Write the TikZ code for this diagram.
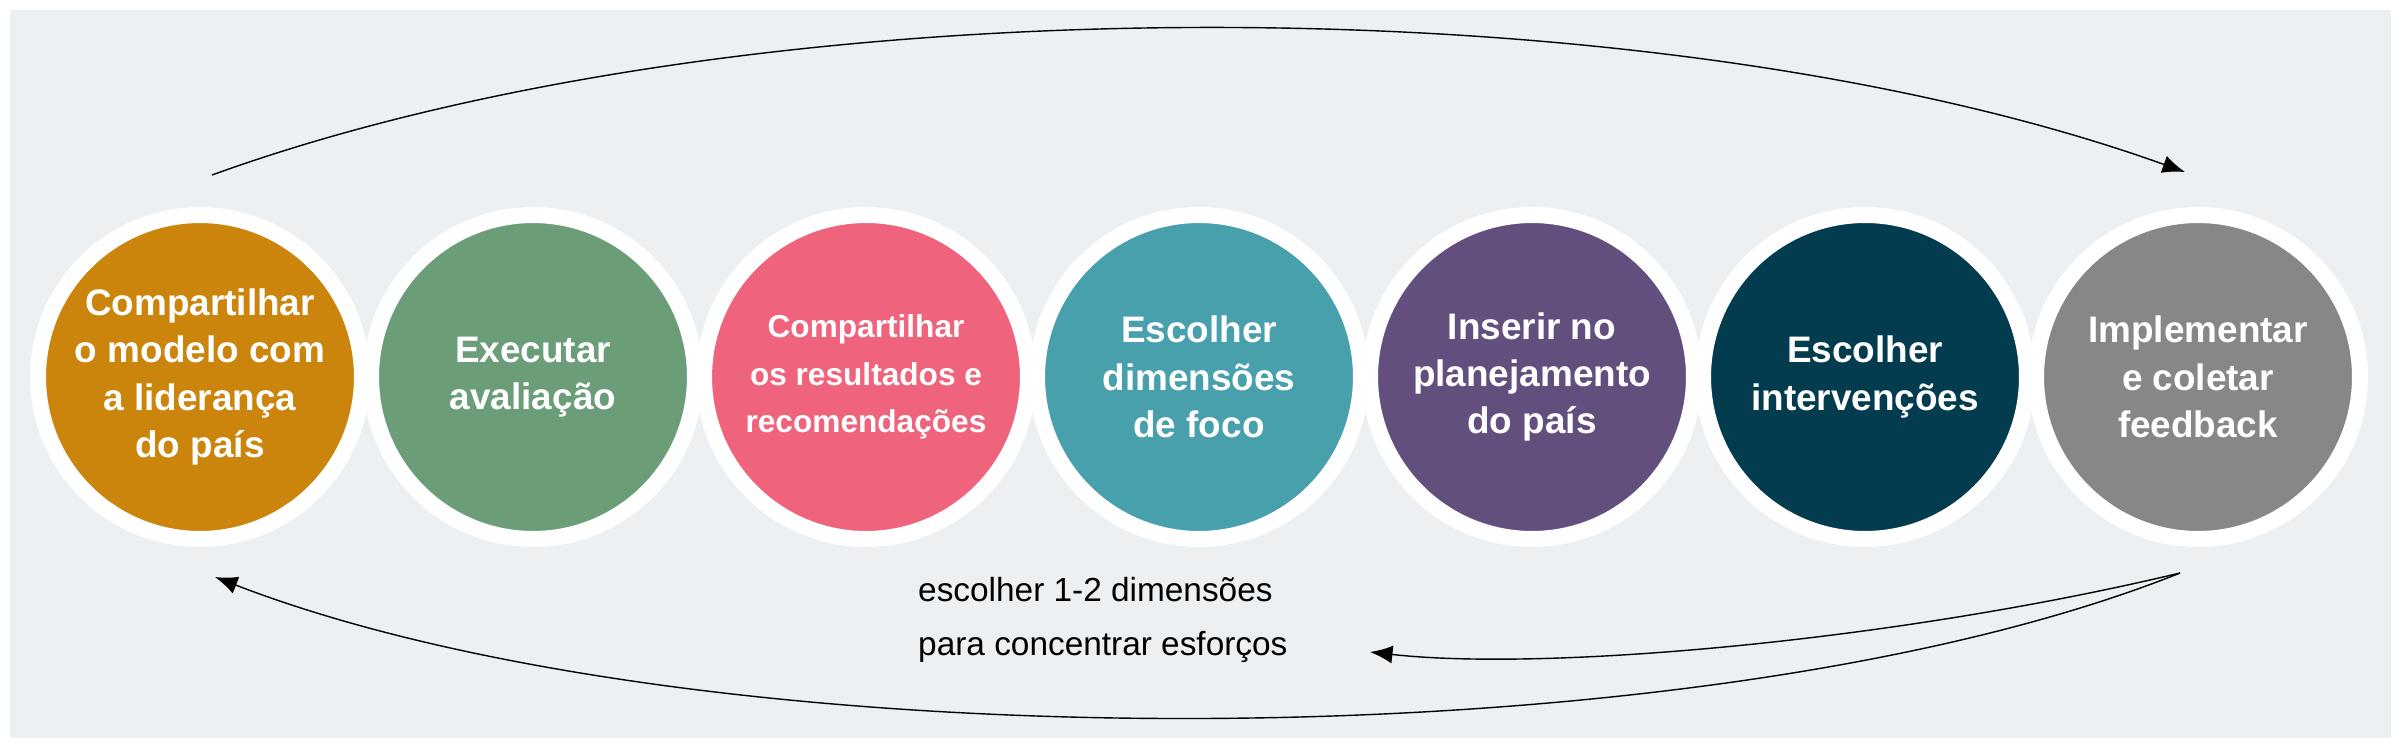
\documentclass[tikz,border=0pt]{standalone}
\usepackage{fontspec}
\setmainfont{Liberation Sans}
\usetikzlibrary{arrows.meta,positioning}
\definecolor{bgc}{HTML}{ECF0F3}
\definecolor{c1}{HTML}{CC850C}
\definecolor{c2}{HTML}{6B9E78}
\definecolor{c3}{HTML}{F0637D}
\definecolor{c4}{HTML}{48A0AC}
\definecolor{c5}{HTML}{634F7D}
\definecolor{c6}{HTML}{033C4E}
\definecolor{c7}{HTML}{878787}
\begin{document}
\begin{tikzpicture}[x=0.02cm, y=-0.02cm]
		\tikzset{stage/.style={circle, draw=white, line width=0.32cm, minimum size=6.48cm,
				align=center, text=white, font=\fontsize{21}{27}\selectfont\bfseries},
			flow/.style={thick, -{Latex[length=0.45cm, width=0.36cm]}}}
		\useasboundingbox (0,0) rectangle (2401,748);
		\fill[white] (0,0) rectangle (2401,748);
		\fill[bgc] (10,10) rectangle (2391,738);
		\begin{scope}
			\node[stage, fill=c1] (s1) at (200,377) {Compartilhar\\o modelo com\\a liderança\\do país};
			\node[stage, fill=c2] (s2) at (533,377) {Executar\\avaliação};
			\node[stage, fill=c3, font=\fontsize{18}{27}\selectfont\bfseries] (s3) at (866,377) {Compartilhar\\os resultados e\\recomendações};
			\node[stage, fill=c4] (s4) at (1199,377) {Escolher\\dimensões\\de foco};
			\node[stage, fill=c5] (s5) at (1532,377) {Inserir no\\planejamento\\do país};
			\node[stage, fill=c6] (s6) at (1865,377) {Escolher\\intervenções};
			\node[stage, fill=c7] (s7) at (2198,377) {Implementar\\e coletar\\feedback};
		\end{scope}
		\node[align=left, anchor=west, font=\fontsize{19}{31}\selectfont] (note) at (912,620) {escolher 1-2 dimensões\\para concentrar esforços};
		\coordinate (topA) at (212,175);
		\coordinate (topB) at (2185,172);
		\coordinate (botA) at (2180,573);
		\coordinate (botB) at (215,577);
		\coordinate (noteB) at (1370,652);
		\draw[flow] (topA) .. controls (750,-20) and (1650,-20) .. (topB);
		\draw[flow] (botA) .. controls (1700,765) and (700,765) .. (botB);
		\draw[flow] (botA) .. controls (1900,640) and (1550,672) .. (noteB);
	\end{tikzpicture}
\end{document}
